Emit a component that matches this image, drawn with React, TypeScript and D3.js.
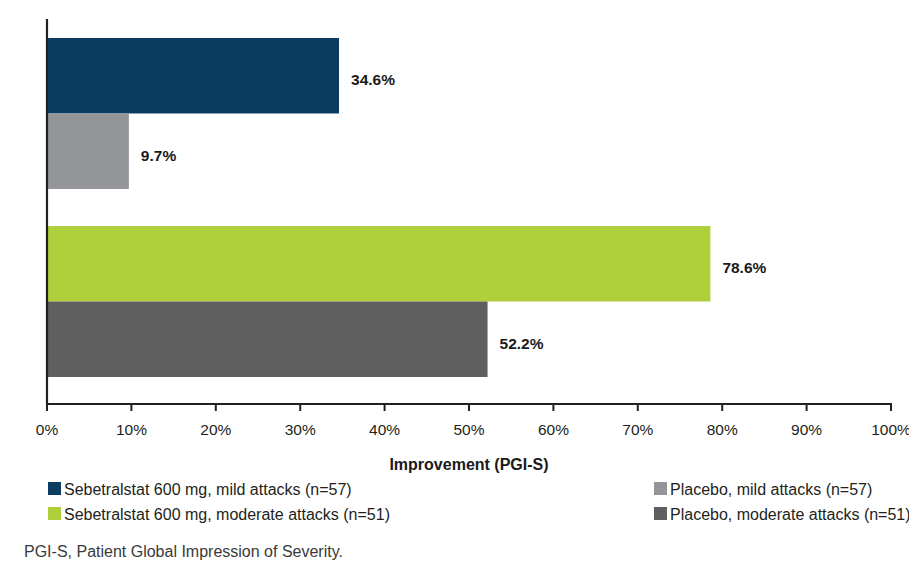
import React from "react";
import * as d3 from "d3";

const groups = ["Mild attacks", "Moderate attacks"];
const seriesNames = [
  "Sebetralstat 600 mg, mild attacks (n=57)",
  "Placebo, mild attacks (n=57)",
  "Sebetralstat 600 mg, moderate attacks (n=51)",
  "Placebo, moderate attacks (n=51)",
];
const barGroup = [0, 0, 1, 1];
const barSlot = ["active", "placebo", "active", "placebo"];
const values = [34.6, 9.7, 78.6, 52.2];
const colors = ["#0b3d62", "#939598", "#afcf3b", "#5f5f5f"];
const xTicks = [0, 10, 20, 30, 40, 50, 60, 70, 80, 90, 100];

const W = 909;
const H = 562;
const FONT = "'Liberation Sans', Arial, sans-serif";

export default function App() {
  const x = d3.scaleLinear().domain([0, 100]).range([47, 891]);
  const yGroup = d3
    .scaleBand<string>()
    .domain(groups)
    .range([38, 377])
    .paddingInner(0.197);
  const ySlot = d3
    .scaleBand<string>()
    .domain(["active", "placebo"])
    .range([0, yGroup.bandwidth()])
    .padding(0);

  const axisY = 404;
  const axisTop = 19;

  const legendItems = [
    { i: 0, x: 48, y: 482 },
    { i: 1, x: 654, y: 482 },
    { i: 2, x: 48, y: 507 },
    { i: 3, x: 654, y: 507 },
  ];

  return (
    <svg
      width={W}
      height={H}
      style={{ position: "absolute", left: 0, top: 0, background: "#fff" }}
      fontFamily={FONT}
    >
      {/* bars */}
      {values.map((v, i) => {
        const y0 = (yGroup(groups[barGroup[i]]) ?? 0) + (ySlot(barSlot[i]) ?? 0);
        const h = ySlot.bandwidth();
        return (
          <g key={i}>
            <rect
              x={x(0)}
              y={y0}
              width={x(v) - x(0)}
              height={h}
              fill={colors[i]}
            />
            <text
              x={x(v) + 12}
              y={y0 + h / 2 + 4}
              dy="0.35em"
              fontSize={15.5}
              fontWeight="bold"
              fill="#1a1a1a"
            >
              {v.toFixed(1)}%
            </text>
          </g>
        );
      })}

      {/* axes */}
      <line x1={x(0)} x2={x(0)} y1={axisTop} y2={axisY} stroke="#231f20" strokeWidth={2.2} />
      <line x1={x(0) - 1} x2={x(100) + 1} y1={axisY} y2={axisY} stroke="#231f20" strokeWidth={2.2} />
      {xTicks.map((t) => (
        <g key={t}>
          <line x1={x(t)} x2={x(t)} y1={axisY} y2={axisY + 7} stroke="#231f20" strokeWidth={2} />
          <text
            x={x(t)}
            y={435}
            textAnchor="middle"
            fontSize={15.5}
            fill="#231f20"
          >
            {t}%
          </text>
        </g>
      ))}
      <text
        x={(x(0) + x(100)) / 2}
        y={470}
        textAnchor="middle"
        fontSize={16}
        fontWeight="bold"
        fill="#1a1a1a"
      >
        Improvement (PGI-S)
      </text>

      {/* legend */}
      {legendItems.map(({ i, x: lx, y: ly }) => (
        <g key={i}>
          <rect x={lx} y={ly} width={13} height={13} fill={colors[i]} />
          <text x={lx + 16} y={ly + 12.5} fontSize={16} fill="#231f20">
            {seriesNames[i]}
          </text>
        </g>
      ))}

      {/* footnote */}
      <text x={24} y={557} fontSize={16} fill="#3a3a3a">
        PGI-S, Patient Global Impression of Severity.
      </text>
    </svg>
  );
}
